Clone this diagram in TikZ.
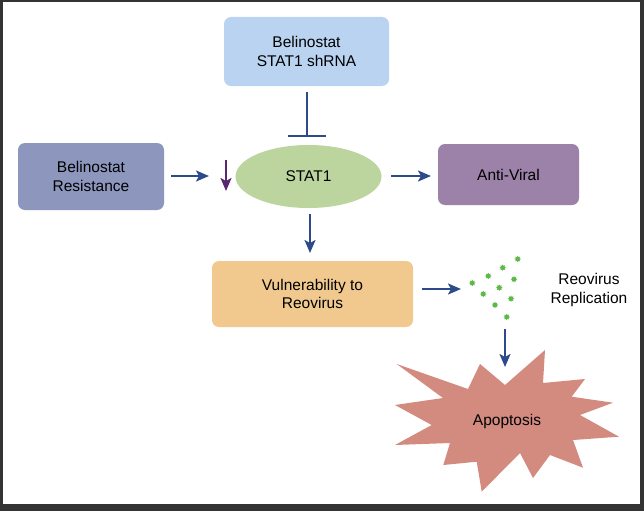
\documentclass[tikz,border=0pt]{standalone}
\usepackage{fontspec}
\setmainfont{Liberation Sans}
\usetikzlibrary{arrows.meta,shapes.geometric}
\definecolor{frame}{HTML}{333333}
\definecolor{topblue}{HTML}{B9D3F1}
\definecolor{statgreen}{HTML}{BCD59F}
\definecolor{resblue}{HTML}{8D97BE}
\definecolor{avpurple}{HTML}{9C82A8}
\definecolor{vulorange}{HTML}{F1C98F}
\definecolor{arrblue}{HTML}{2D4A8A}
\definecolor{downpurple}{HTML}{5A2670}
\definecolor{virgreen}{HTML}{5DB84A}
\definecolor{apored}{HTML}{D38A7F}
\tikzset{
  boxnode/.style={rounded corners=7pt, align=center, font=\fontsize{15.5}{18.5}\selectfont, inner sep=0pt},
  flow/.style={draw=arrblue, line width=2pt, -{Stealth[length=13pt,width=11pt,inset=3pt]}},
  virdot/.style={star, star points=8, star point ratio=1.6, fill=virgreen, inner sep=0pt, minimum size=6.5pt},
  lbl/.style={align=center, font=\fontsize{15.5}{18.5}\selectfont}
}
\begin{document}
\begin{tikzpicture}[x=1pt,y=-1pt]
\useasboundingbox (0,0) rectangle (644,511);
\fill[frame] (0,0) rectangle (644,511);
\fill[white] (2.5,2.5) rectangle (640,504);
% boxes
\node[boxnode, fill=topblue, minimum width=165pt, minimum height=69pt] (shrna) at (306.5,51.5) {Belinostat\\STAT1 shRNA};
\node[ellipse, fill=statgreen, minimum width=146pt, minimum height=63pt, inner sep=0pt, lbl] (stat) at (308.5,176.5) {STAT1};
\node[boxnode, fill=resblue, minimum width=146pt, minimum height=67pt] (res) at (91,176.5) {Belinostat\\Resistance};
\node[boxnode, fill=avpurple, minimum width=141pt, minimum height=61pt] (av) at (508.5,174.5) {Anti-Viral};
\node[boxnode, fill=vulorange, minimum width=201pt, minimum height=66pt] (vul) at (312.5,294) {Vulnerability to\\Reovirus};
% inhibition
\coordinate (inhA) at (307,92);
\coordinate (inhB) at (307,136);
\draw[arrblue, line width=2pt] (inhA) -- (inhB);
\draw[arrblue, line width=2pt] (288,136) -- (326,136);
% arrows
\coordinate (r1) at (171,176);
\coordinate (r2) at (209,176);
\draw[flow] (r1) -- (r2);
\coordinate (p1) at (226,160);
\coordinate (p2) at (226,191);
\draw[draw=downpurple, line width=2pt, -{Stealth[length=13pt,width=11pt,inset=3pt]}] (p1) -- (p2);
\coordinate (s1) at (391,176);
\coordinate (s2) at (431,176);
\draw[flow] (s1) -- (s2);
\coordinate (d1) at (310,214);
\coordinate (d2) at (310,253);
\draw[flow] (d1) -- (d2);
\coordinate (v1) at (422,289);
\coordinate (v2) at (461,289);
\draw[flow] (v1) -- (v2);
% virus dots
\foreach \x/\y in {517.7/259,502.7/267.7,488.3/276,472.3/283,514/279.3,499.3/287.7,483.3/294,511/298.7,495/305,506.7/317}
  \node[virdot] at (\x,\y) {};
\node[lbl] (rep) at (589,290) {Reovirus\\Replication};
\coordinate (a1) at (505,329);
\coordinate (a2) at (505,367);
\draw[flow] (a1) -- (a2);
% starburst
\fill[apored] (545,350) -- (543,383) -- (585,379) -- (571.7,396.7) -- (613,402.7) -- (580,415) -- (619,436.7) -- (573,440) -- (583,467.7) -- (550,455) -- (533,478) -- (520,453) -- (481.7,491.7) -- (476.7,461.7) -- (443.3,465) -- (450,443) -- (395,445) -- (431.7,425) -- (395,405) -- (443,398) -- (396.7,364) -- (468,389) -- (480,364) -- (505,385) -- cycle;
\node[lbl] (apo) at (507,421) {Apoptosis};
\end{tikzpicture}
\end{document}
